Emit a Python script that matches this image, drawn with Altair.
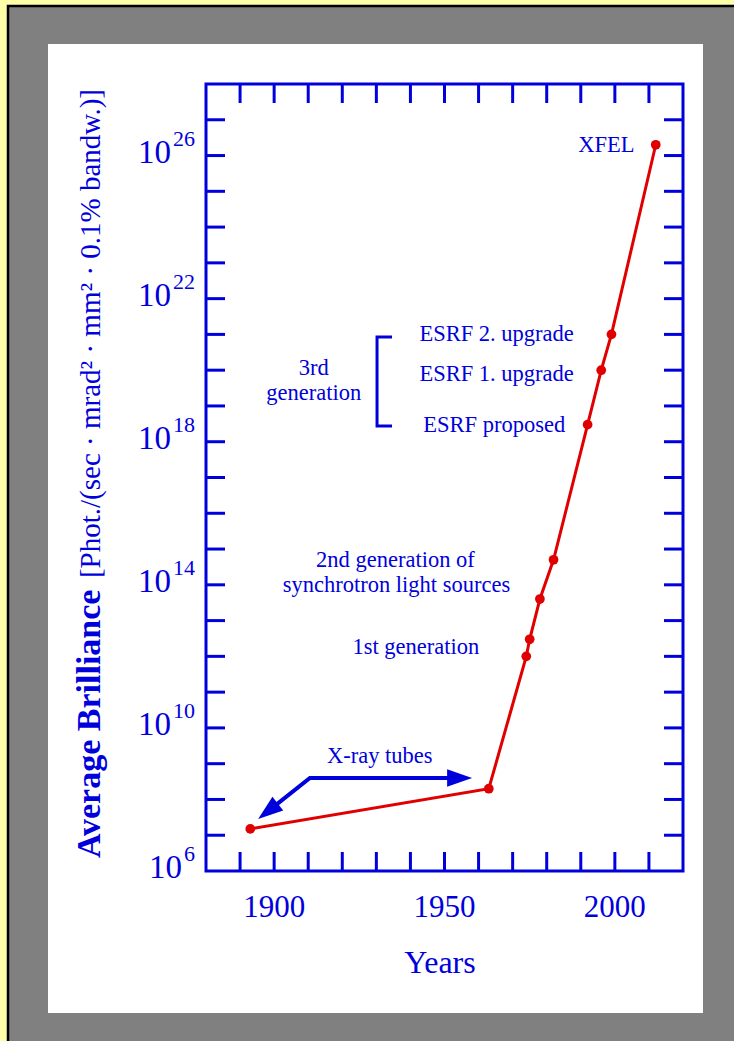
import altair as alt
import pandas as pd

# ---------------- data ----------------
years = [1893, 1963, 1974, 1975, 1978, 1982, 1992, 1996, 1999, 2012]
brilliance = [1.5e7, 2e8, 1e12, 3e12, 4e13, 5e14, 3e18, 1e20, 1e21, 2e26]

x_ticks = [1890, 1900, 1910, 1920, 1930, 1940, 1950, 1960, 1970, 1980, 1990, 2000, 2010]
x_label_values = [1900, 1950, 2000]
y_ticks = [1e7, 1e8, 1e9, 1e10, 1e11, 1e12, 1e13, 1e14, 1e15, 1e16, 1e17,
           1e18, 1e19, 1e20, 1e21, 1e22, 1e23, 1e24, 1e25, 1e26, 1e27]
y_label_values = [1e6, 1e10, 1e14, 1e18, 1e22, 1e26]
y_label_exps = ["6", "10", "14", "18", "22", "26"]

ann_text = ["XFEL", "ESRF 2. upgrade", "ESRF 1. upgrade", "ESRF proposed",
            "3rd", "generation", "2nd generation of", "synchrotron light sources",
            "1st generation", "X-ray tubes"]
ann_year = [1997.5, 1965.3, 1965.3, 1964.6, 1911.6, 1911.6, 1935.6, 1935.9, 1941.6, 1931.0]
ann_value = [1.25e26, 6.6e20, 5e19, 1.9e18, 7.4e19, 1.5e19, 3.2e14, 6.3e13, 1.2e12, 1.05e9]

bracket_year = [1934.6, 1930.2, 1930.2, 1934.6]
bracket_value = [8.5e20, 8.5e20, 2.75e18, 2.75e18]

arrow_year = [1899.9, 1910.5, 1952.2]
arrow_value = [6.3e7, 4e8, 4e8]
head_year = [1895.3, 1958.1]
head_value = [2.85e7, 4e8]

# ---------------- styles ----------------
BLUE = "#0000dd"
RED = "#e00000"
FONT = "Liberation Serif"
W, H = 477, 787
TICK = 19

xscale = alt.Scale(domain=[1880, 2020], nice=False, zero=False)
yscale = alt.Scale(type="log", domain=[1e6, 1e28], nice=False)

df = pd.DataFrame({"year": years, "b": brilliance, "i": range(len(years))})
df_xt = pd.DataFrame({"t": x_ticks})
df_yt = pd.DataFrame({"t": y_ticks})
df_xl = pd.DataFrame({"t": x_label_values})
df_yl = pd.DataFrame({"v": y_label_values, "e": y_label_exps})
df_ann = pd.DataFrame({"label": ann_text, "year": ann_year, "value": ann_value})
df_br = pd.DataFrame({"year": bracket_year, "value": bracket_value, "o": range(4)})
df_ar = pd.DataFrame({"year": arrow_year, "value": arrow_value, "o": range(3)})
dummy = pd.DataFrame({"a": [0]})

X = lambda f: alt.X(f, scale=xscale, axis=None)
Y = lambda f: alt.Y(f, scale=yscale, axis=None)

# ---------------- background panels ----------------
grey = alt.Chart(dummy).mark_rect(fill="#808080", stroke="#000000", strokeWidth=2.5).encode(
    x=alt.value(8 - 206), x2=alt.value(760 - 206), y=alt.value(6 - 84), y2=alt.value(1070 - 84))
white = alt.Chart(dummy).mark_rect(fill="#ffffff").encode(
    x=alt.value(48 - 206), x2=alt.value(703 - 206), y=alt.value(44 - 84), y2=alt.value(1013 - 84))
frame = alt.Chart(dummy).mark_rect(fillOpacity=0, stroke=BLUE, strokeWidth=3).encode(
    x=alt.value(0), x2=alt.value(W), y=alt.value(0), y2=alt.value(H))

# ---------------- inward ticks on all four sides ----------------
top_ticks = alt.Chart(df_xt).mark_rule(color=BLUE, strokeWidth=3).encode(
    x=X("t:Q"), y=alt.value(0), y2=alt.value(TICK))
bottom_ticks = alt.Chart(df_xt).mark_rule(color=BLUE, strokeWidth=3).encode(
    x=X("t:Q"), y=alt.value(H - TICK), y2=alt.value(H))
left_ticks = alt.Chart(df_yt).mark_rule(color=BLUE, strokeWidth=3).encode(
    y=Y("t:Q"), x=alt.value(0), x2=alt.value(TICK))
right_ticks = alt.Chart(df_yt).mark_rule(color=BLUE, strokeWidth=3).encode(
    y=Y("t:Q"), x=alt.value(W - TICK), x2=alt.value(W))

# ---------------- data ----------------
line = alt.Chart(df).mark_line(color=RED, strokeWidth=3).encode(
    x=X("year:Q"), y=Y("b:Q"), order="i:Q")
points = alt.Chart(df).mark_circle(color=RED, size=95, opacity=1).encode(
    x=X("year:Q"), y=Y("b:Q"))

# ---------------- annotations ----------------
ann = alt.Chart(df_ann).mark_text(align="center", baseline="alphabetic", font=FONT,
                                  fontSize=22.5, color=BLUE).encode(
    x=X("year:Q"), y=Y("value:Q"), text="label:N")
bracket = alt.Chart(df_br).mark_line(color=BLUE, strokeWidth=3, strokeJoin="miter").encode(
    x=X("year:Q"), y=Y("value:Q"), order="o:Q")
arrow_line = alt.Chart(df_ar).mark_line(color=BLUE, strokeWidth=4, strokeJoin="miter").encode(
    x=X("year:Q"), y=Y("value:Q"), order="o:Q")
HEAD = "M0,0L-2,-0.7L-2,0.7Z"
head1 = alt.Chart(pd.DataFrame({"year": head_year[:1], "value": head_value[:1]})).mark_point(
    shape=HEAD, size=625, filled=True, opacity=1, color=BLUE, angle=142).encode(
    x=X("year:Q"), y=Y("value:Q"))
head2 = alt.Chart(pd.DataFrame({"year": head_year[1:], "value": head_value[1:]})).mark_point(
    shape=HEAD, size=625, filled=True, opacity=1, color=BLUE, angle=0).encode(
    x=X("year:Q"), y=Y("value:Q"))

# ---------------- tick labels ----------------
x_labels = alt.Chart(df_xl).mark_text(align="center", baseline="alphabetic", font=FONT,
                                      fontSize=31, color=BLUE).encode(
    x=X("t:Q"), y=alt.value(917 - 84), text=alt.Text("t:Q", format="d"))
x_title = alt.Chart(dummy).mark_text(text="Years", align="center", baseline="alphabetic",
                                     font=FONT, fontSize=32, color=BLUE).encode(
    x=alt.value(440 - 206), y=alt.value(973 - 84))

ten_2 = alt.Chart(df_yl).transform_filter("length(datum.e) == 2").mark_text(
    text="10", align="right", baseline="alphabetic", dy=7, font=FONT, fontSize=33, color=BLUE).encode(
    y=Y("v:Q"), x=alt.value(-35))
ten_1 = alt.Chart(df_yl).transform_filter("length(datum.e) == 1").mark_text(
    text="10", align="right", baseline="alphabetic", dy=7, font=FONT, fontSize=33, color=BLUE).encode(
    y=Y("v:Q"), x=alt.value(-24))
expo = alt.Chart(df_yl).mark_text(
    align="right", baseline="alphabetic", dy=-10, font=FONT, fontSize=22, color=BLUE).encode(
    y=Y("v:Q"), x=alt.value(-11), text="e:N")

# ---------------- y title ----------------
ytitle_bold = alt.Chart(dummy).mark_text(
    text="Average Brilliance", angle=270, align="left", baseline="alphabetic",
    font=FONT, fontSize=34, fontWeight="bold", color=BLUE).encode(
    x=alt.value(100 - 206), y=alt.value(858 - 84))
ytitle_unit = alt.Chart(dummy).mark_text(
    text="[Phot./(sec · mrad² · mm² · 0.1% bandw.)]", angle=270, align="right",
    baseline="alphabetic", font=FONT, fontSize=29, color=BLUE).encode(
    x=alt.value(100 - 206), y=alt.value(89 - 84))

chart = alt.layer(
    grey, white, frame, top_ticks, bottom_ticks, left_ticks, right_ticks,
    line, points, ann, bracket, arrow_line, head1, head2,
    x_labels, x_title, ten_2, ten_1, expo, ytitle_bold, ytitle_unit
).properties(
    width=W, height=H,
    padding={"left": 206, "top": 84, "right": 51, "bottom": 170},
    autosize=alt.AutoSizeParams(type="none"),
    background="#ffffaa",
).configure_view(strokeWidth=0)

chart.save("out.html", embed_options={"renderer": "svg", "actions": False})
